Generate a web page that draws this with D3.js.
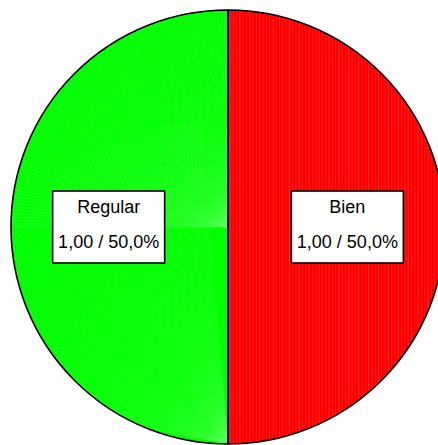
<!DOCTYPE html>
<html>
<head>
<meta charset="utf-8">
<script src="https://cdn.jsdelivr.net/npm/d3@7"></script>
<style>
  html, body { margin: 0; padding: 0; background: #fff; overflow: hidden; }
  svg { display: block; }
</style>
</head>
<body>
<svg id="chart" width="438" height="445"></svg>
<script>
// Categories and their values
const categories = ["Bien", "Regular"];
const values = [1.0, 1.0];
const colors = ["#ff0000", "#00ff00"];
const stripeColors = ["#ff5a5a", "#5aff5a"];

const W = 438, H = 445;
const cx = 228, cy = 227, R = 217;

const svg = d3.select("#chart");
const g = svg.append("g").attr("transform", `translate(${cx},${cy})`);

const total = d3.sum(values);
const data = categories.map((c, i) => ({ name: c, value: values[i], color: colors[i], stripe: stripeColors[i], index: i }));

const pie = d3.pie().value(d => d.value).sort(null).startAngle(0).endAngle(2 * Math.PI);
const arcs = pie(data);
const arc = d3.arc().innerRadius(0).outerRadius(R);

// Clip paths for each slice so the fine shading lines stay inside
const defs = svg.append("defs");
arcs.forEach((a, i) => {
  defs.append("clipPath").attr("id", "clip" + i)
    .append("path").attr("d", arc(a));
});

// Slice fills
g.selectAll("path.slice").data(arcs).join("path")
  .attr("class", "slice")
  .attr("d", arc)
  .attr("fill", d => d.data.color);

// Fine shading lines: vertical strips on the first slice, fan strokes on the second
const s0 = g.append("g").attr("clip-path", "url(#clip0)");
s0.selectAll("line").data(d3.range(2, R, 3.3)).join("line")
  .attr("x1", d => d).attr("x2", d => d)
  .attr("y1", -R).attr("y2", R)
  .attr("stroke", stripeColors[0])
  .attr("stroke-width", (d, i) => (i % 3 === 0 ? 0.9 : 0.5))
  .attr("stroke-opacity", 0.55);

const s1 = g.append("g").attr("clip-path", "url(#clip1)");
// fan from the centre across the upper-left quarter
s1.selectAll("line.fa").data(d3.range(0, 90, 0.9)).join("line")
  .attr("class", "fa")
  .attr("x1", 0).attr("y1", 0)
  .attr("x2", d => -R * 1.1 * Math.cos(d * Math.PI / 180))
  .attr("y2", d => -R * 1.1 * Math.sin(d * Math.PI / 180))
  .attr("stroke", stripeColors[1])
  .attr("stroke-width", 0.5)
  .attr("stroke-opacity", 0.6);
// fan from the bottom point across the lower-left quarter
s1.selectAll("line.fb").data(d3.range(100, 175, 0.8)).join("line")
  .attr("class", "fb")
  .attr("x1", 0).attr("y1", R)
  .attr("x2", d => -R * 1.5 * Math.sin(d * Math.PI / 180) * 0.9)
  .attr("y2", d => R + R * 1.5 * Math.cos(d * Math.PI / 180))
  .attr("stroke", stripeColors[1])
  .attr("stroke-width", 0.5)
  .attr("stroke-opacity", 0.6);

// Slice outlines
g.selectAll("path.outline").data(arcs).join("path")
  .attr("class", "outline")
  .attr("d", arc)
  .attr("fill", "none")
  .attr("stroke", "#000")
  .attr("stroke-width", 1.6);

// Value labels in boxes
const fmtVal = v => v.toFixed(2).replace(".", ",");
const fmtPct = p => (p * 100).toFixed(1).replace(".", ",") + "%";
const labelR = R * 0.55;
const boxW = 112, boxH = 72;

const labels = g.selectAll("g.label").data(arcs).join("g")
  .attr("class", "label")
  .attr("transform", d => {
    const m = (d.startAngle + d.endAngle) / 2;
    return `translate(${Math.sin(m) * labelR},${-Math.cos(m) * labelR})`;
  });

labels.append("rect")
  .attr("x", -boxW / 2).attr("y", -boxH / 2)
  .attr("width", boxW).attr("height", boxH)
  .attr("fill", "#fff")
  .attr("stroke", "#000")
  .attr("stroke-width", 1.6);

labels.append("text")
  .attr("text-anchor", "middle")
  .attr("y", -14)
  .attr("font-family", "Liberation Sans, Arial, sans-serif")
  .attr("font-size", 18)
  .attr("fill", "#000")
  .text(d => d.data.name);

labels.append("text")
  .attr("text-anchor", "middle")
  .attr("y", 21)
  .attr("font-family", "Liberation Sans, Arial, sans-serif")
  .attr("font-size", 18)
  .attr("fill", "#000")
  .text(d => `${fmtVal(d.data.value)} / ${fmtPct(d.data.value / total)}`);
</script>
</body>
</html>
